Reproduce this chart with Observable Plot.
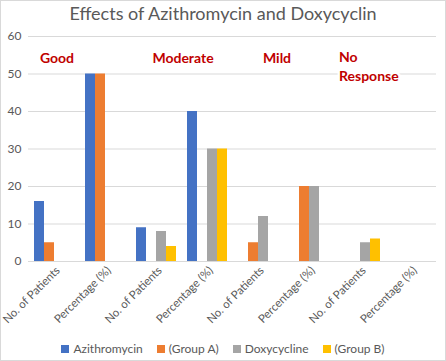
<!DOCTYPE html>
<html><head><meta charset="utf-8">
<script src="https://cdn.jsdelivr.net/npm/d3@7"></script>
<script src="https://cdn.jsdelivr.net/npm/@observablehq/plot@0.6"></script>
<style>
body{margin:0;background:#fff;}
#chart{position:relative;width:444px;height:359px;border:1px solid #d9d9d9;font-family:Lato,sans-serif;background:#fff;overflow:hidden;}
#title{position:absolute;top:1px;left:0;width:100%;text-align:center;font-size:18px;color:#595959;line-height:22px;}
#plot{position:absolute;top:26px;left:0;}
#legend{position:absolute;top:341px;left:0;width:100%;display:flex;justify-content:center;gap:14px;font-size:12px;color:#595959;line-height:14px;}
#legend .item{display:flex;align-items:center;}
#legend .sw{width:8px;height:8px;margin-right:4px;}
</style>
</head><body>
<div id="chart"><div id="title"></div><div id="plot"></div><div id="legend"></div></div>
<script>
const title = "Effects of Azithromycin and Doxycyclin";
const categories = ["No. of Patients","Percentage (%)","No. of Patients","Percentage (%)","No. of Patients","Percentage (%)","No. of Patients","Percentage (%)"];
const groups = ["Good","Moderate","Mild","No Response"];
const seriesNames = ["Azithromycin","(Group A)","Doxycycline","(Group B)"];
const azithromycin = [16,50,9,40,0,0,0,0];
const groupA = [5,50,0,0,5,20,0,0];
const doxycycline = [0,0,8,30,12,20,5,0];
const groupB = [0,0,4,30,0,0,6,0];
const yTicks = [0,10,20,30,40,50,60];
const colors = ["#4472C4","#ED7D31","#A5A5A5","#FFC000"];

const seriesValues = [azithromycin, groupA, doxycycline, groupB];
const rows = [];
categories.forEach((c, i) => seriesNames.forEach((s, j) => rows.push({cat: i, series: s, value: seriesValues[j][i]})));

document.getElementById("title").textContent = title;

const red = "#C00000";
const labelStyle = {fill: red, fontWeight: "bold", fontSize: 14, stroke: "white", strokeWidth: 5, lineAnchor: "middle"};

const plot = Plot.plot({
  width: 444, height: 312,
  marginLeft: 26, marginRight: 8, marginTop: 9, marginBottom: 78,
  style: {fontFamily: "Lato, sans-serif", fontSize: "12px", color: "#595959", background: "transparent"},
  fx: {domain: d3.range(8), padding: 0, label: null},
  x: {domain: seriesNames, paddingInner: 0, paddingOuter: 0.5, axis: null},
  y: {domain: [0, 60], ticks: yTicks, axis: "left", tickSize: 0, tickPadding: 7, label: null},
  color: {domain: seriesNames, range: colors},
  marks: [
    Plot.axisFx({anchor: "bottom", tickFormat: i => categories[i], tickRotate: -45, tickSize: 0, tickPadding: 7, dx: 4, fontSize: 11.5, label: null}),
    Plot.ruleY(yTicks, {stroke: "#d9d9d9", strokeWidth: 1}),
    Plot.barY(rows, {fx: "cat", x: "series", y: "value", fill: "series"}),
    Plot.text([groups[0]], {fx: [0], y: [54], text: d => d, dx: 3, ...labelStyle}),
    Plot.text([groups[1]], {fx: [3], y: [54], text: d => d, dx: -24, ...labelStyle}),
    Plot.text([groups[2]], {fx: [4], y: [54.2], text: d => d, dx: 19, ...labelStyle}),
    Plot.text(["No\nResponse"], {fx: [6], y: [52.3], text: d => d, dx: -21, textAnchor: "start", lineHeight: 1.35, ...labelStyle})
  ]
});
document.getElementById("plot").appendChild(plot);

const leg = document.getElementById("legend");
seriesNames.forEach((s, i) => {
  const it = document.createElement("div"); it.className = "item";
  const sw = document.createElement("span"); sw.className = "sw"; sw.style.background = colors[i];
  const t = document.createElement("span"); t.textContent = s;
  it.appendChild(sw); it.appendChild(t); leg.appendChild(it);
});
</script>
</body></html>
